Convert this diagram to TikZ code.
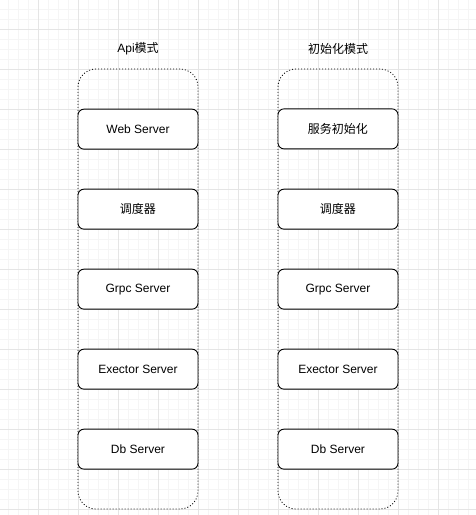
\documentclass[tikz,border=0pt]{standalone}
\usepackage{fontspec}
\setmainfont{Liberation Sans}
\newfontfamily\cjk{Noto Sans CJK SC}
\usepackage{tikz}
\usetikzlibrary{matrix}

\tikzset{
  minorgrid/.style={draw=black!4, line width=0.8pt},
  majorgrid/.style={draw=black!10, line width=0.8pt},
  modebox/.style={draw, dash pattern=on 1pt off 2pt, line width=0.8pt, rounded corners=18pt,
    minimum width=120pt, minimum height=440pt, inner sep=0pt, outer sep=0pt},
  srvbox/.style={draw, fill=white, line width=0.9pt, rounded corners=6pt,
    minimum width=120pt, minimum height=40pt, inner sep=0pt, outer sep=0pt,
    font=\fontsize{12pt}{14pt}\selectfont},
  modelabel/.style={font=\fontsize{12pt}{14pt}\selectfont, inner sep=1pt}
}

\begin{document}
\begin{tikzpicture}[x=1pt, y=-1pt]
  \useasboundingbox[fill=white] (0,0) rectangle (476,515);
  % background grid
  \foreach \gx in {8,18,...,468} \draw[minorgrid] (\gx,0) -- (\gx,515);
  \foreach \gy in {9,19,...,509} \draw[minorgrid] (0,\gy) -- (476,\gy);
  \foreach \gx in {38,78,...,438} \draw[majorgrid] (\gx,0) -- (\gx,515);
  \foreach \gy in {29,69,...,509} \draw[majorgrid] (0,\gy) -- (476,\gy);

  % the two modes
  \node[modebox] (api) at (138,289) {};
  \node[modebox] (init) at (338,289) {};
  \node[modelabel] (apilabel) at (138,49) {Api{\cjk 模式}};
  \node[modelabel] (initlabel) at (338,49) {{\cjk 初始化模式}};

  \matrix (m) [matrix of nodes, nodes={srvbox}, row sep=39.1pt, column sep=79.1pt,
    inner sep=0pt, outer sep=0pt] at (238,289)
  {
    Web Server & {\cjk 服务初始化} \\
    {\cjk 调度器} & {\cjk 调度器} \\
    Grpc Server & Grpc Server \\
    Exector Server & Exector Server \\
    Db Server & Db Server \\
  };
\end{tikzpicture}
\end{document}
